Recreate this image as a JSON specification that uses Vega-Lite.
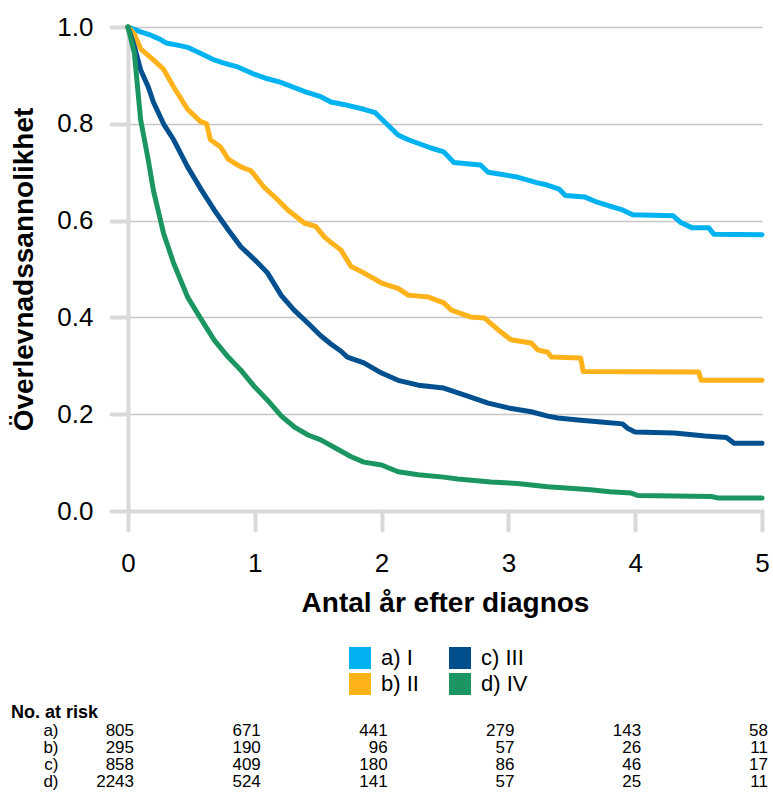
{
  "$schema": "https://vega.github.io/schema/vega-lite/v6.json",
  "padding": {"left": 10, "top": 14, "right": 5, "bottom": 5},
  "config": {"font": "Liberation Sans", "view": {"stroke": null}},
  "resolve": {"legend": {"color": "independent"}},
  "spacing": 8,
  "vconcat": [
    {
      "width": 634,
      "height": 484,
      "data": {"values": [
        {"g":"a) I","t":0,"s":1},{"g":"a) I","t":0.05,"s":0.995},{"g":"a) I","t":0.1,"s":0.99},{"g":"a) I","t":0.18,"s":0.983},{"g":"a) I","t":0.25,"s":0.975},{"g":"a) I","t":0.3,"s":0.967},{"g":"a) I","t":0.4,"s":0.962},{"g":"a) I","t":0.47,"s":0.958},{"g":"a) I","t":0.52,"s":0.952},{"g":"a) I","t":0.6,"s":0.942},{"g":"a) I","t":0.68,"s":0.932},{"g":"a) I","t":0.75,"s":0.926},{"g":"a) I","t":0.87,"s":0.917},{"g":"a) I","t":1.0,"s":0.902},{"g":"a) I","t":1.1,"s":0.893},{"g":"a) I","t":1.2,"s":0.886},{"g":"a) I","t":1.3,"s":0.876},{"g":"a) I","t":1.4,"s":0.866},{"g":"a) I","t":1.52,"s":0.856},{"g":"a) I","t":1.6,"s":0.845},{"g":"a) I","t":1.7,"s":0.84},{"g":"a) I","t":1.86,"s":0.83},{"g":"a) I","t":1.95,"s":0.823},{"g":"a) I","t":2.0,"s":0.81},{"g":"a) I","t":2.13,"s":0.777},{"g":"a) I","t":2.21,"s":0.767},{"g":"a) I","t":2.39,"s":0.75},{"g":"a) I","t":2.49,"s":0.742},{"g":"a) I","t":2.57,"s":0.72},{"g":"a) I","t":2.78,"s":0.715},{"g":"a) I","t":2.84,"s":0.7},{"g":"a) I","t":3.07,"s":0.69},{"g":"a) I","t":3.23,"s":0.678},{"g":"a) I","t":3.3,"s":0.674},{"g":"a) I","t":3.4,"s":0.665},{"g":"a) I","t":3.45,"s":0.652},{"g":"a) I","t":3.6,"s":0.649},{"g":"a) I","t":3.7,"s":0.638},{"g":"a) I","t":3.8,"s":0.63},{"g":"a) I","t":3.9,"s":0.622},{"g":"a) I","t":3.98,"s":0.612},{"g":"a) I","t":4.3,"s":0.61},{"g":"a) I","t":4.36,"s":0.596},{"g":"a) I","t":4.45,"s":0.585},{"g":"a) I","t":4.58,"s":0.585},{"g":"a) I","t":4.62,"s":0.572},{"g":"a) I","t":5.0,"s":0.571},
        {"g":"b) II","t":0,"s":1},{"g":"b) II","t":0.05,"s":0.985},{"g":"b) II","t":0.1,"s":0.955},{"g":"b) II","t":0.2,"s":0.932},{"g":"b) II","t":0.28,"s":0.913},{"g":"b) II","t":0.36,"s":0.876},{"g":"b) II","t":0.47,"s":0.83},{"g":"b) II","t":0.57,"s":0.805},{"g":"b) II","t":0.62,"s":0.8},{"g":"b) II","t":0.65,"s":0.767},{"g":"b) II","t":0.73,"s":0.752},{"g":"b) II","t":0.79,"s":0.727},{"g":"b) II","t":0.89,"s":0.711},{"g":"b) II","t":0.97,"s":0.703},{"g":"b) II","t":1.07,"s":0.67},{"g":"b) II","t":1.18,"s":0.643},{"g":"b) II","t":1.26,"s":0.622},{"g":"b) II","t":1.39,"s":0.595},{"g":"b) II","t":1.48,"s":0.588},{"g":"b) II","t":1.55,"s":0.566},{"g":"b) II","t":1.6,"s":0.555},{"g":"b) II","t":1.68,"s":0.539},{"g":"b) II","t":1.76,"s":0.505},{"g":"b) II","t":1.86,"s":0.492},{"g":"b) II","t":2.0,"s":0.471},{"g":"b) II","t":2.13,"s":0.46},{"g":"b) II","t":2.21,"s":0.446},{"g":"b) II","t":2.37,"s":0.442},{"g":"b) II","t":2.49,"s":0.43},{"g":"b) II","t":2.55,"s":0.415},{"g":"b) II","t":2.7,"s":0.401},{"g":"b) II","t":2.81,"s":0.399},{"g":"b) II","t":2.92,"s":0.374},{"g":"b) II","t":3.02,"s":0.354},{"g":"b) II","t":3.18,"s":0.347},{"g":"b) II","t":3.23,"s":0.333},{"g":"b) II","t":3.31,"s":0.328},{"g":"b) II","t":3.34,"s":0.318},{"g":"b) II","t":3.57,"s":0.316},{"g":"b) II","t":3.59,"s":0.288},{"g":"b) II","t":4.5,"s":0.287},{"g":"b) II","t":4.52,"s":0.27},{"g":"b) II","t":5.0,"s":0.27},
        {"g":"c) III","t":0,"s":1},{"g":"c) III","t":0.05,"s":0.96},{"g":"c) III","t":0.1,"s":0.911},{"g":"c) III","t":0.16,"s":0.876},{"g":"c) III","t":0.2,"s":0.845},{"g":"c) III","t":0.28,"s":0.8},{"g":"c) III","t":0.36,"s":0.767},{"g":"c) III","t":0.47,"s":0.711},{"g":"c) III","t":0.58,"s":0.663},{"g":"c) III","t":0.68,"s":0.622},{"g":"c) III","t":0.79,"s":0.581},{"g":"c) III","t":0.89,"s":0.546},{"g":"c) III","t":1.0,"s":0.519},{"g":"c) III","t":1.1,"s":0.492},{"g":"c) III","t":1.21,"s":0.445},{"g":"c) III","t":1.31,"s":0.415},{"g":"c) III","t":1.42,"s":0.388},{"g":"c) III","t":1.52,"s":0.362},{"g":"c) III","t":1.6,"s":0.345},{"g":"c) III","t":1.68,"s":0.33},{"g":"c) III","t":1.73,"s":0.318},{"g":"c) III","t":1.86,"s":0.306},{"g":"c) III","t":2.0,"s":0.285},{"g":"c) III","t":2.13,"s":0.27},{"g":"c) III","t":2.29,"s":0.26},{"g":"c) III","t":2.49,"s":0.254},{"g":"c) III","t":2.65,"s":0.24},{"g":"c) III","t":2.84,"s":0.223},{"g":"c) III","t":3.0,"s":0.213},{"g":"c) III","t":3.18,"s":0.205},{"g":"c) III","t":3.31,"s":0.196},{"g":"c) III","t":3.39,"s":0.192},{"g":"c) III","t":3.55,"s":0.188},{"g":"c) III","t":3.73,"s":0.184},{"g":"c) III","t":3.9,"s":0.18},{"g":"c) III","t":3.94,"s":0.171},{"g":"c) III","t":4.0,"s":0.163},{"g":"c) III","t":4.31,"s":0.161},{"g":"c) III","t":4.55,"s":0.155},{"g":"c) III","t":4.72,"s":0.152},{"g":"c) III","t":4.78,"s":0.14},{"g":"c) III","t":5.0,"s":0.14},
        {"g":"d) IV","t":0,"s":1},{"g":"d) IV","t":0.05,"s":0.946},{"g":"d) IV","t":0.1,"s":0.808},{"g":"d) IV","t":0.16,"s":0.725},{"g":"d) IV","t":0.2,"s":0.663},{"g":"d) IV","t":0.28,"s":0.574},{"g":"d) IV","t":0.36,"s":0.512},{"g":"d) IV","t":0.47,"s":0.442},{"g":"d) IV","t":0.58,"s":0.395},{"g":"d) IV","t":0.68,"s":0.353},{"g":"d) IV","t":0.79,"s":0.318},{"g":"d) IV","t":0.89,"s":0.291},{"g":"d) IV","t":1.0,"s":0.256},{"g":"d) IV","t":1.1,"s":0.229},{"g":"d) IV","t":1.21,"s":0.196},{"g":"d) IV","t":1.31,"s":0.174},{"g":"d) IV","t":1.42,"s":0.157},{"g":"d) IV","t":1.52,"s":0.147},{"g":"d) IV","t":1.65,"s":0.128},{"g":"d) IV","t":1.76,"s":0.112},{"g":"d) IV","t":1.86,"s":0.101},{"g":"d) IV","t":2.0,"s":0.095},{"g":"d) IV","t":2.13,"s":0.081},{"g":"d) IV","t":2.29,"s":0.075},{"g":"d) IV","t":2.49,"s":0.07},{"g":"d) IV","t":2.6,"s":0.066},{"g":"d) IV","t":2.86,"s":0.06},{"g":"d) IV","t":3.07,"s":0.057},{"g":"d) IV","t":3.31,"s":0.05},{"g":"d) IV","t":3.65,"s":0.044},{"g":"d) IV","t":3.8,"s":0.04},{"g":"d) IV","t":3.97,"s":0.037},{"g":"d) IV","t":4.02,"s":0.032},{"g":"d) IV","t":4.6,"s":0.03},{"g":"d) IV","t":4.65,"s":0.027},{"g":"d) IV","t":5.0,"s":0.027}
      ]},
      "mark": {"type": "line", "strokeWidth": 5, "strokeJoin": "round", "strokeCap": "round"},
      "encoding": {
        "x": {"field": "t", "type": "quantitative",
          "scale": {"domain": [0, 5], "nice": false, "zero": false},
          "axis": {"values": [0,1,2,3,4,5], "format": "d", "grid": false,
            "domainColor": "#D9D9D9", "domainWidth": 4, "domainCap": "round",
            "tickColor": "#D9D9D9", "tickWidth": 4, "tickSize": 19, "tickCap": "round",
            "labelFontSize": 26, "labelColor": "black", "labelPadding": 20, "labelFlush": false,
            "title": "Antal år efter diagnos", "titleFontSize": 28, "titleFontWeight": "bold", "titleColor": "black", "titlePadding": 13}},
        "y": {"field": "s", "type": "quantitative",
          "scale": {"domain": [0, 1], "nice": false},
          "axis": {"values": [0,0.2,0.4,0.6,0.8,1.0], "format": ".1f",
            "grid": true, "gridColor": "#C6C6C6", "gridWidth": 1.5,
            "domainColor": "#D9D9D9", "domainWidth": 4, "domainCap": "round",
            "tickColor": "#D9D9D9", "tickWidth": 4, "tickSize": 17, "tickCap": "round",
            "labelFontSize": 26, "labelColor": "black", "labelPadding": 18,
            "title": "Överlevnadssannolikhet", "titleFontSize": 28, "titleFontWeight": "bold", "titleColor": "black", "titlePadding": 18}},
        "color": {"field": "g", "type": "nominal",
          "scale": {"domain": ["a) I", "b) II", "c) III", "d) IV"], "range": ["#00B2EF", "#FFB21A", "#00508F", "#1B9660"]},
          "legend": {"orient": "none", "legendX": 221, "legendY": 620, "title": null, "columns": 2,
            "padding": 0, "symbolType": "square", "symbolSize": 484, "symbolStrokeWidth": 0,
            "labelFontSize": 22, "labelColor": "black", "labelOffset": 10, "rowPadding": 4, "columnPadding": 30,
            "encode": {"symbols": {"update": {"fill": {"scale": "color", "field": "value"}, "fillOpacity": {"value": 1}, "strokeWidth": {"value": 0}}}}}}
      }
    },
    {
      "width": 634,
      "height": {"step": 17},
      "title": {"text": "No. at risk", "anchor": "start", "frame": "group", "fontSize": 18, "fontWeight": "bold", "color": "black", "dx": -117, "offset": 0},
      "data": {"values": [
        {"r":"a)","t":0,"n":805},{"r":"a)","t":1,"n":671},{"r":"a)","t":2,"n":441},{"r":"a)","t":3,"n":279},{"r":"a)","t":4,"n":143},{"r":"a)","t":5,"n":58},
        {"r":"b)","t":0,"n":295},{"r":"b)","t":1,"n":190},{"r":"b)","t":2,"n":96},{"r":"b)","t":3,"n":57},{"r":"b)","t":4,"n":26},{"r":"b)","t":5,"n":11},
        {"r":"c)","t":0,"n":858},{"r":"c)","t":1,"n":409},{"r":"c)","t":2,"n":180},{"r":"c)","t":3,"n":86},{"r":"c)","t":4,"n":46},{"r":"c)","t":5,"n":17},
        {"r":"d)","t":0,"n":2243},{"r":"d)","t":1,"n":524},{"r":"d)","t":2,"n":141},{"r":"d)","t":3,"n":57},{"r":"d)","t":4,"n":25},{"r":"d)","t":5,"n":11}
      ]},
      "mark": {"type": "text", "align": "right", "dx": 6, "fontSize": 17, "color": "black"},
      "encoding": {
        "x": {"field": "t", "type": "quantitative", "scale": {"domain": [0, 5], "nice": false, "zero": false}, "axis": null},
        "y": {"field": "r", "type": "nominal", "axis": {"title": null, "domain": false, "ticks": false, "grid": false, "labelFontSize": 17, "labelColor": "black", "labelPadding": 70}},
        "text": {"field": "n", "type": "quantitative", "format": "d"}
      }
    }
  ]
}
